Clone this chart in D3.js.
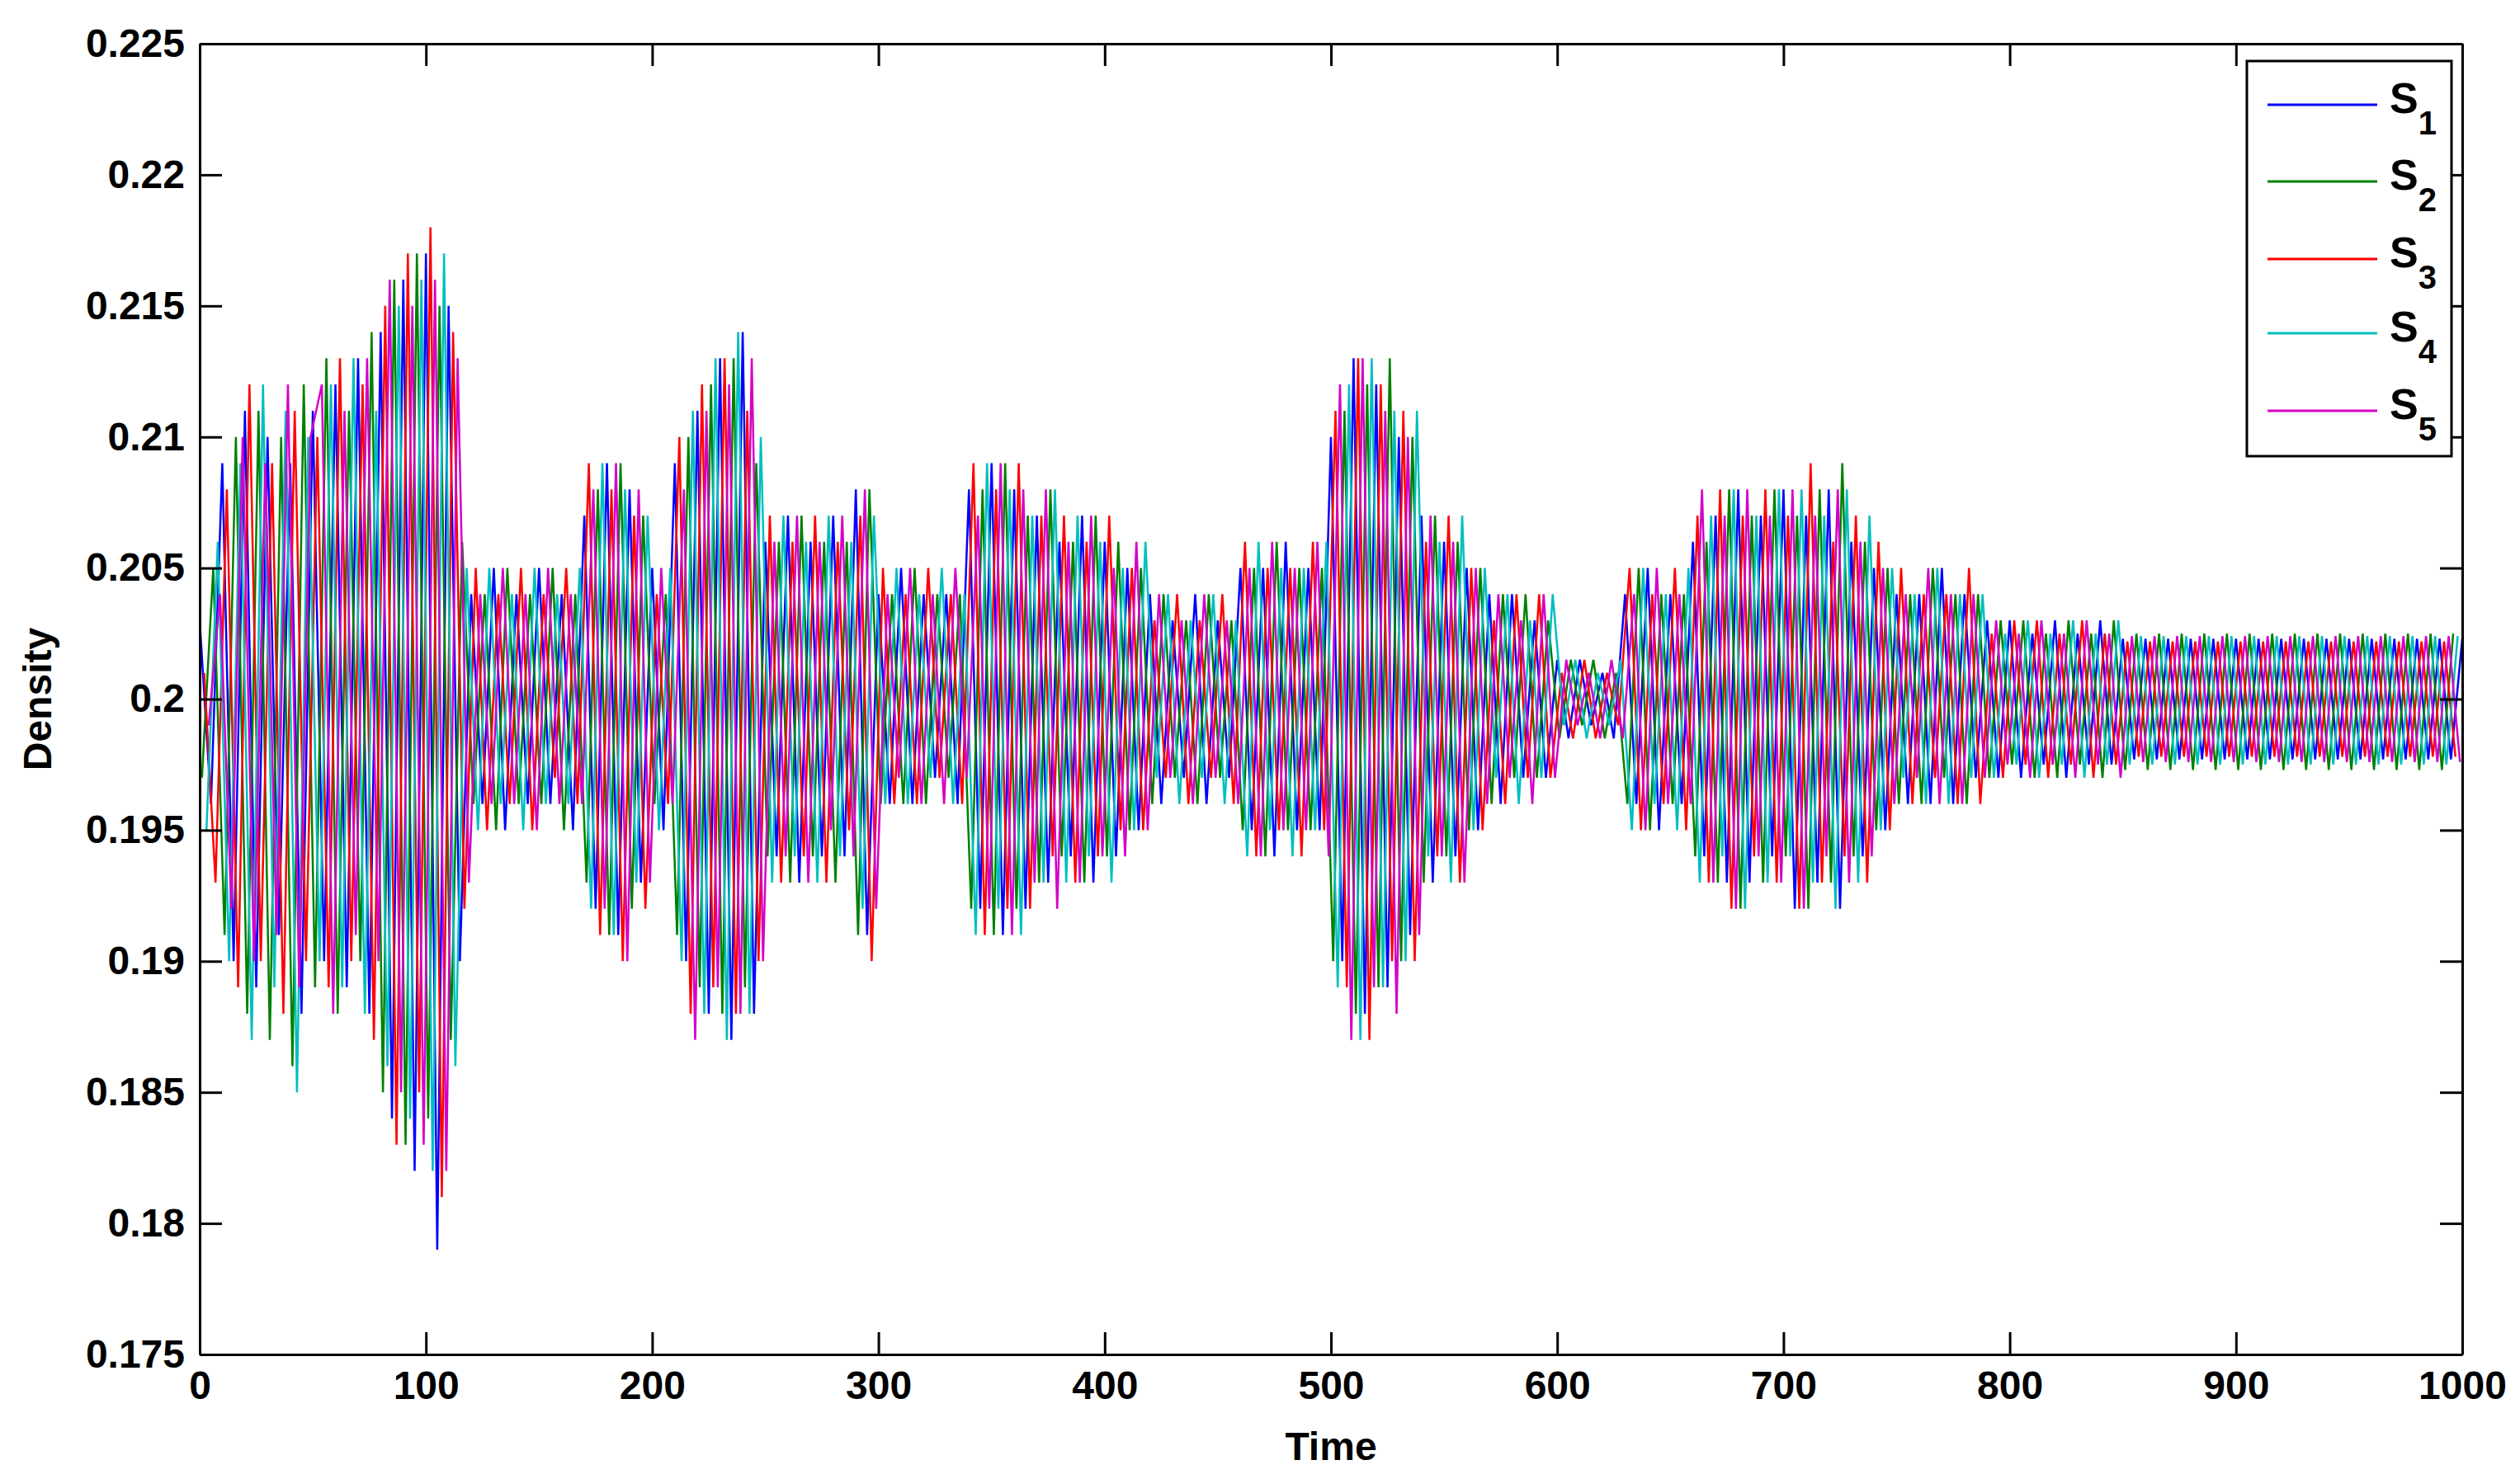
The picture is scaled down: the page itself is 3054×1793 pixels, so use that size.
<!DOCTYPE html>
<html><head><meta charset="utf-8">
<script src="https://cdn.jsdelivr.net/npm/d3@7"></script>
<style>body{margin:0;background:#fff}text{font-family:"Liberation Sans",Arial,sans-serif}</style>
</head><body><svg id="c" width="3054" height="1793"></svg>
<script>
const seriesNames = ["S1","S2","S3","S4","S5"];
const seriesColors = ["#0000ff","#008000","#ff0000","#00bfbf","#d400c8"];
const xTicks = [0,100,200,300,400,500,600,700,800,900,1000];
const yTicks = [0.175,0.18,0.185,0.19,0.195,0.2,0.205,0.21,0.215,0.22,0.225];
// sampling times per series (every 5 time units, staggered)
const timeS1 = d3.range(0,1001,5), timeS2 = d3.range(1,1001,5), timeS3 = d3.range(2,1001,5), timeS4 = d3.range(3,1001,5), timeS5 = d3.range(4,1001,5);
const densityS1 = [.203,.196,.209,.190,.211,.189,.210,.191,.209,.188,
.211,.190,.212,.189,.213,.188,.214,.184,.216,.182,.217,.179,.215,.190,
.204,.196,.205,.195,.204,.196,.205,.196,.204,.195,.207,.192,.209,.191,.208,.193,.205,.195,
.209,.190,.211,.188,.213,.187,.214,.188,.206,.194,.207,.193,.206,.194,.207,.194,.208,.191,
.204,.196,.205,.196,.204,.197,.204,.196,.208,.192,.209,.191,.208,.192,.207,.193,
.206,.194,.207,.193,.206,.194,.205,.195,.204,.196,.203,.197,.204,.196,.203,.197,
.205,.195,.205,.194,.206,.195,.205,.195,.210,.190,.213,.188,.212,.189,.210,.191,
.207,.193,.206,.194,.205,.195,.204,.196,.204,.197,.203,.197,.2015,.1985,.2015,.199,.201,.1985,
.204,.196,.205,.195,.204,.196,.206,.194,.207,.193,.208,.193,.207,.194,.208,.192,.207,.193,.208,.192,.206,.194,
.205,.195,.204,.196,.204,.196,.205,.196,.204,.197,.203,.197,.203,.197,.2025,.1975,.203,.197,.2025,.1975,.203,.1975,
.2023,.1977,.2023,.1977,.2023,.1977,.2023,.1977,.2023,.1977,.2023,.1977,.2023,.1977,.2023,.1977,
.2023,.1977,.2023,.1977,.2023,.1977,.2023,.1977,.2023,.1977,.2023,.1977,.2023,.1977,.2023];
const densityS2 = [.197,.205,.191,.210,.188,.211,.187,.210,.186,.212,
.189,.213,.188,.211,.190,.214,.185,.216,.183,.217,.184,.215,.187,.206,
.196,.204,.195,.205,.196,.204,.196,.205,.195,.204,.193,.208,.191,.209,.192,.207,.196,.204,
.191,.210,.189,.212,.188,.213,.189,.209,.194,.206,.193,.207,.194,.206,.193,.206,.191,.208,
.196,.204,.196,.205,.196,.204,.197,.204,.192,.208,.191,.209,.192,.207,.193,.208,
.194,.206,.193,.207,.194,.206,.195,.205,.196,.204,.197,.203,.196,.204,.197,.203,
.195,.205,.194,.206,.195,.205,.195,.205,.190,.211,.188,.212,.189,.213,.190,.210,
.193,.207,.194,.206,.195,.205,.196,.204,.197,.204,.197,.203,.1985,.2015,.199,.2015,.1985,.201,
.196,.205,.195,.204,.196,.204,.194,.206,.193,.208,.192,.207,.193,.208,.194,.207,.192,.208,.193,.209,.194,.206,
.195,.205,.196,.204,.196,.205,.197,.204,.196,.204,.197,.203,.1975,.203,.197,.2025,.197,.203,.1975,.2025,.197,.203,
.1973,.2025,.1973,.2025,.1973,.2025,.1973,.2025,.1973,.2025,.1973,.2025,.1973,.2025,.1973,.2025,
.1973,.2025,.1973,.2025,.1973,.2025,.1973,.2025,.1973,.2025,.1973,.2025,.1973,.2025];
const densityS3 = [.201,.193,.208,.189,.212,.190,.209,.188,.211,.190,
.210,.189,.213,.190,.212,.187,.215,.183,.217,.185,.218,.181,.214,.192,
.205,.195,.204,.196,.205,.195,.204,.197,.205,.196,.209,.191,.208,.190,.207,.192,.204,.196,
.210,.188,.212,.189,.213,.188,.211,.190,.207,.193,.206,.194,.207,.193,.206,.195,.207,.190,
.205,.196,.204,.196,.205,.197,.204,.196,.209,.191,.208,.192,.209,.192,.207,.194,
.207,.193,.206,.194,.207,.195,.205,.195,.203,.197,.204,.196,.203,.197,.204,.196,
.206,.194,.205,.195,.205,.194,.206,.195,.211,.189,.213,.187,.212,.190,.211,.190,
.206,.194,.207,.193,.205,.195,.203,.196,.204,.197,.204,.197,.201,.1985,.2015,.1985,.201,.199,
.205,.195,.204,.196,.205,.195,.207,.193,.208,.192,.207,.194,.208,.193,.207,.192,.209,.193,.206,.194,.207,.193,
.206,.195,.205,.196,.204,.197,.204,.196,.205,.196,.2025,.197,.203,.1975,.203,.197,.2025,.1975,.203,.197,.2025,.1975,
.2022,.1978,.2022,.1978,.2022,.1978,.2022,.1978,.2022,.1978,.2022,.1978,.2022,.1978,.2022,.1978,
.2022,.1978,.2022,.1978,.2022,.1978,.2022,.1978,.2022,.1978,.2022,.1978,.2022,.1978];
const densityS4 = [.195,.206,.190,.209,.187,.212,.189,.211,.185,.210,
.190,.212,.189,.213,.188,.211,.186,.215,.184,.216,.182,.217,.186,.205,
.195,.205,.196,.204,.195,.205,.196,.204,.196,.205,.192,.209,.191,.208,.193,.207,.195,.205,
.190,.211,.188,.213,.187,.214,.188,.210,.193,.207,.194,.206,.193,.207,.194,.206,.192,.207,
.196,.205,.196,.204,.197,.205,.196,.204,.191,.209,.192,.208,.191,.207,.193,.208,
.193,.207,.194,.206,.193,.205,.195,.206,.197,.204,.196,.203,.197,.204,.196,.203,
.194,.206,.195,.205,.194,.205,.195,.206,.189,.212,.187,.213,.189,.211,.190,.211,
.194,.206,.193,.207,.195,.205,.197,.204,.196,.203,.197,.204,.199,.2015,.1985,.201,.199,.2015,
.195,.205,.196,.204,.195,.205,.193,.207,.194,.208,.192,.207,.193,.208,.194,.208,.193,.207,.192,.208,.193,.207,
.195,.205,.197,.204,.196,.205,.196,.204,.197,.204,.197,.2025,.1975,.203,.197,.2025,.1975,.203,.197,.2025,.1975,.203,
.1975,.2024,.1975,.2024,.1975,.2024,.1975,.2024,.1975,.2024,.1975,.2024,.1975,.2024,.1975,.2024,
.1975,.2024,.1975,.2024,.1975,.2024,.1975,.2024,.1975,.2024,.1975,.2024,.1975,.2024];
const densityS5 = [.199,.204,.192,.210,.190,.209,.191,.212,.189,.210,
.212,.188,.211,.191,.213,.190,.216,.185,.215,.183,.216,.182,.213,.193,
.204,.196,.205,.196,.204,.195,.205,.196,.204,.196,.208,.192,.209,.190,.208,.193,.205,.196,
.208,.187,.211,.189,.212,.188,.213,.190,.206,.194,.207,.193,.206,.195,.207,.194,.208,.192,
.204,.197,.205,.196,.204,.196,.205,.197,.207,.192,.209,.191,.208,.193,.208,.192,
.206,.193,.207,.194,.205,.194,.206,.195,.204,.197,.203,.196,.204,.197,.203,.196,
.205,.194,.206,.195,.205,.195,.206,.194,.212,.187,.213,.189,.211,.188,.210,.191,
.207,.194,.206,.193,.205,.196,.204,.197,.203,.196,.204,.197,.2015,.199,.201,.1985,.2015,.1985,
.204,.195,.205,.196,.204,.196,.208,.193,.207,.192,.208,.194,.207,.193,.208,.192,.207,.194,.208,.193,.206,.194,
.205,.196,.204,.197,.205,.196,.204,.196,.204,.197,.203,.1975,.2025,.197,.203,.1975,.2025,.197,.203,.1975,.2025,.197,
.2024,.1976,.2024,.1976,.2024,.1976,.2024,.1976,.2024,.1976,.2024,.1976,.2024,.1976,.2024,.1976,
.2024,.1976,.2024,.1976,.2024,.1976,.2024,.1976,.2024,.1976,.2024,.1976,.2024,.1976];

const times = [timeS1,timeS2,timeS3,timeS4,timeS5];
const dens = [densityS1,densityS2,densityS3,densityS4,densityS5];
const L=242,R=2984,T=53,B=1642;
const svg=d3.select("#c");
const x=d3.scaleLinear().domain([0,1000]).range([L,R]);
const y=d3.scaleLinear().domain([0.175,0.225]).range([B,T]);
const g=svg.append("g");
g.append("defs").append("clipPath").attr("id","cp").append("rect").attr("x",L).attr("y",T).attr("width",R-L).attr("height",B-T);
const line=d3.line().x(d=>x(d[0])).y(d=>y(d[1]));
dens.forEach((v,k)=>{
  const pts=times[k].map((t,i)=>[t,v[i]]).filter(p=>p[1]!==undefined);
  g.append("path").attr("d",line(pts)).attr("fill","none").attr("stroke",seriesColors[k]).attr("stroke-width",2.5).attr("clip-path","url(#cp)");
});
const tk=27;
const ax=svg.append("g").attr("transform",`translate(0,${B})`).call(d3.axisBottom(x).tickValues(xTicks).tickSizeInner(-tk).tickSizeOuter(0).tickPadding(18).tickFormat(d3.format("d")));
const ay=svg.append("g").attr("transform",`translate(${L},0)`).call(d3.axisLeft(y).tickValues(yTicks).tickSizeInner(-tk).tickSizeOuter(0).tickPadding(18).tickFormat(d=>d3.format("")(+d.toFixed(3))));
const at=svg.append("g").attr("transform",`translate(0,${T})`).call(d3.axisTop(x).tickValues(xTicks).tickSizeInner(-tk).tickSizeOuter(0).tickFormat(""));
const ar=svg.append("g").attr("transform",`translate(${R},0)`).call(d3.axisRight(y).tickValues(yTicks).tickSizeInner(-tk).tickSizeOuter(0).tickFormat(""));
[ax,ay,at,ar].forEach(a=>{a.selectAll("path").attr("stroke","#000").attr("stroke-width",3);a.selectAll("line").attr("stroke","#000").attr("stroke-width",3);a.selectAll("text").attr("font-size",48).attr("font-weight","bold").attr("fill","#000").attr("font-family","Liberation Sans, Arial, sans-serif");});
ax.selectAll("text").attr("dy","0.75em");
svg.append("text").attr("x",(L+R)/2).attr("y",1770).attr("text-anchor","middle").attr("font-size",48).attr("font-weight","bold").text("Time");
svg.append("text").attr("transform",`translate(62,${(T+B)/2}) rotate(-90)`).attr("text-anchor","middle").attr("font-size",48).attr("font-weight","bold").text("Density");
// legend
svg.append("rect").attr("x",2723).attr("y",74).attr("width",248).attr("height",479).attr("fill","#fff").attr("stroke","#000").attr("stroke-width",3);
const ly=[127,220,314,404,498];
seriesNames.forEach((n,k)=>{
  svg.append("line").attr("x1",2748).attr("x2",2881).attr("y1",ly[k]).attr("y2",ly[k]).attr("stroke",seriesColors[k]).attr("stroke-width",3);
  const t=svg.append("text").attr("x",2896).attr("y",ly[k]+10).attr("font-size",52).attr("font-weight","bold");
  t.append("tspan").text(n[0]);
  t.append("tspan").attr("dy",26).attr("font-size",40).text(n.slice(1));
});
</script></body></html>
